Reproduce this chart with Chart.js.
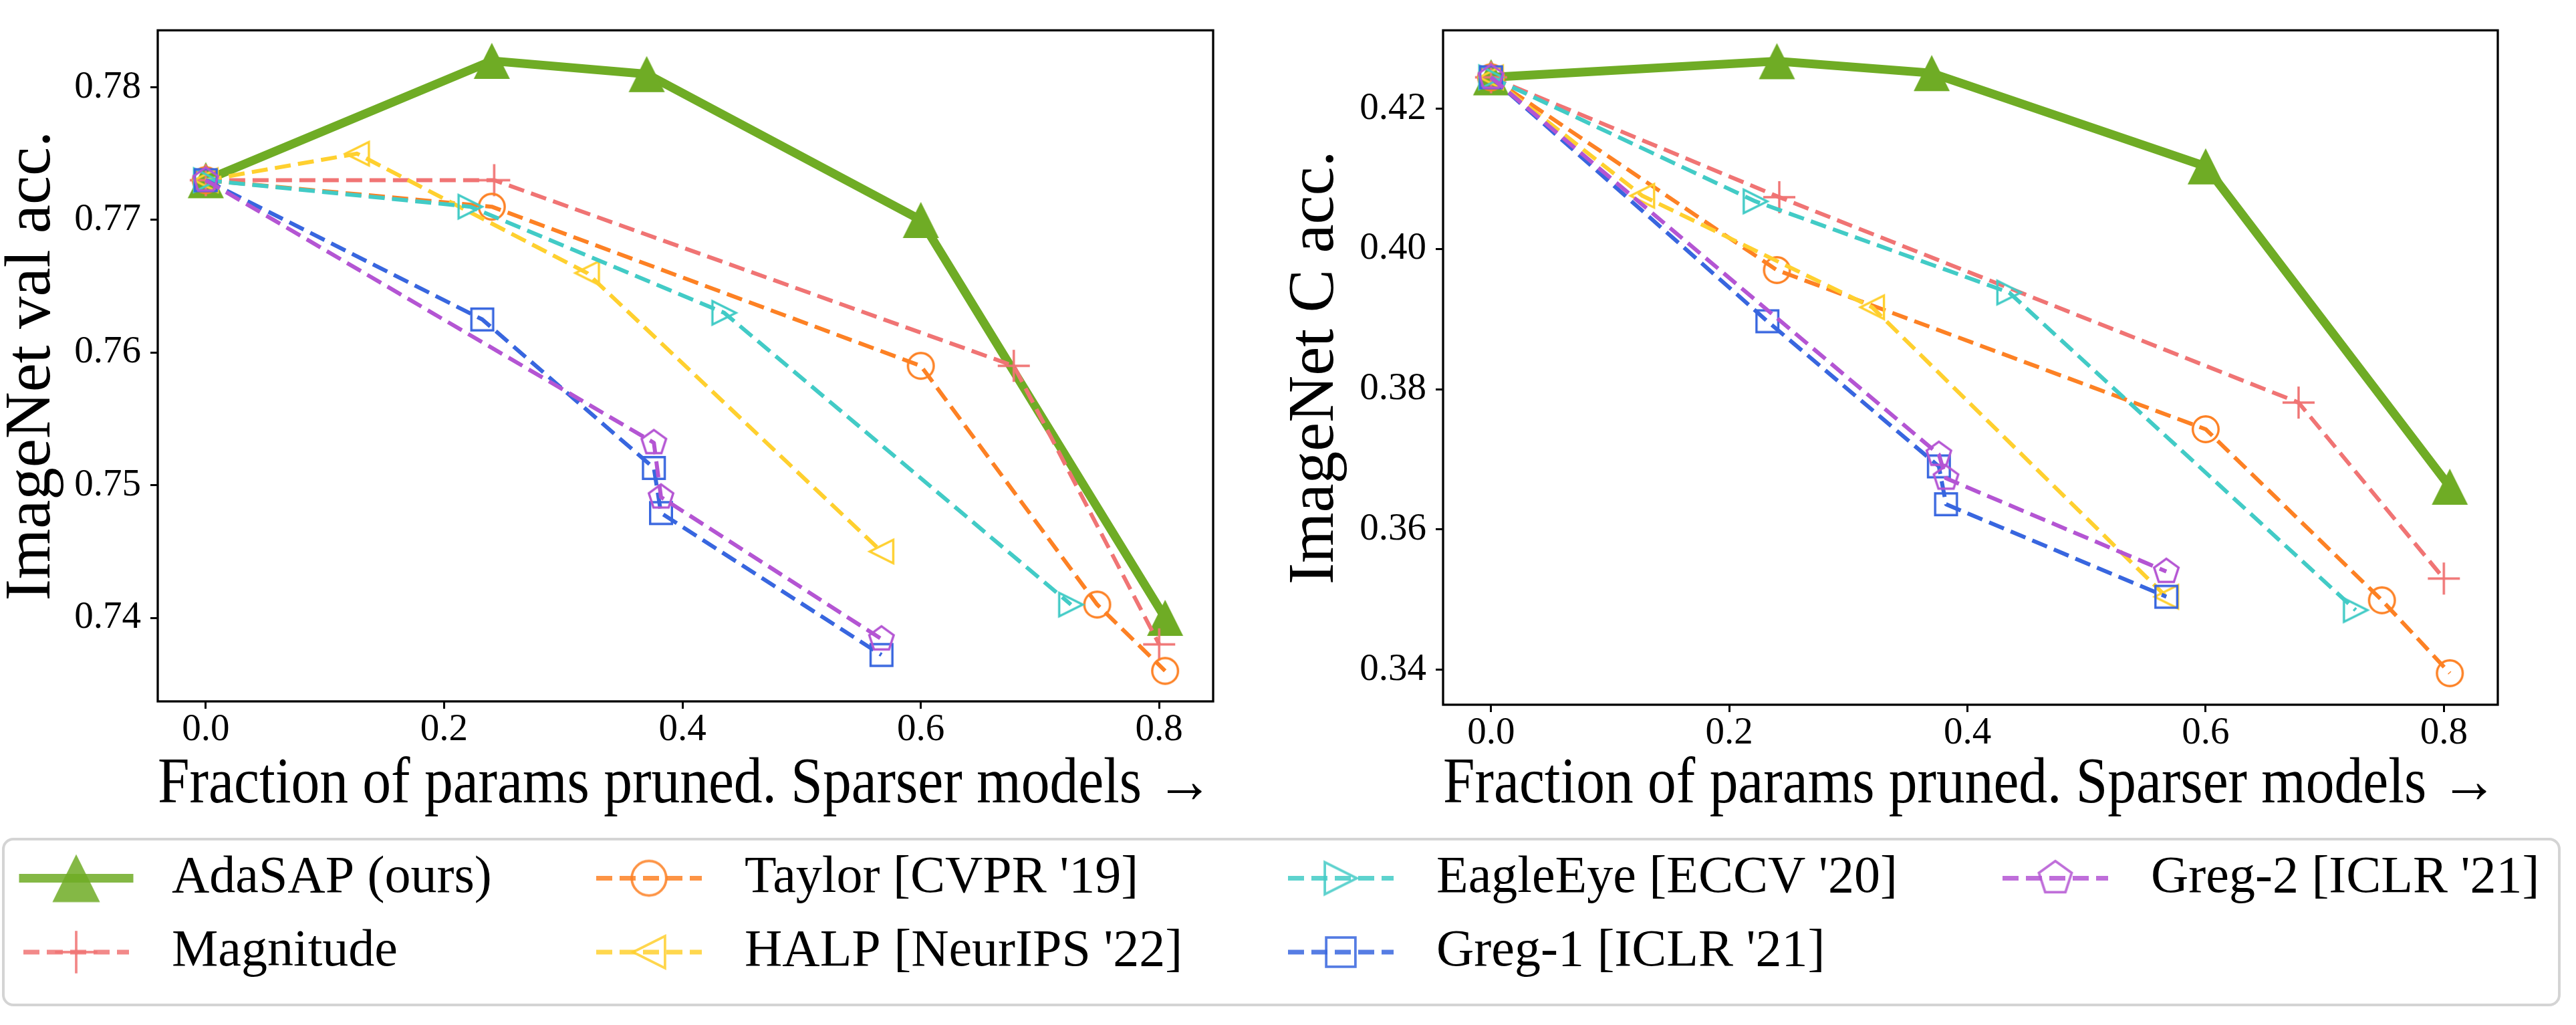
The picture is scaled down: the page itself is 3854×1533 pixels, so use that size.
<!DOCTYPE html>
<html>
<head>
<meta charset="utf-8">
<title>Pruning accuracy vs sparsity</title>
<script src="https://cdn.jsdelivr.net/npm/chart.js@4.4.1/dist/chart.umd.min.js"></script>
<style>
  html, body { margin: 0; padding: 0; background: #fff; }
  #wrap { position: relative; width: 3854px; height: 1533px; }
  #wrap canvas { position: absolute; left: 0; top: 0; }
</style>
</head>
<body>
<div id="wrap">
  <canvas id="valChart" width="3854" height="1533"></canvas>
  <canvas id="cChart" width="3854" height="1533"></canvas>
</div>
<script>
const methods = ['AdaSAP (ours)', 'Magnitude', "Taylor [CVPR '19]", "HALP [NeurIPS '22]", "EagleEye [ECCV '20]", "Greg-1 [ICLR '21]", "Greg-2 [ICLR '21]"];

// fraction of params pruned (same in both panels)
const adasapX = [0, 0.24, 0.37, 0.60, 0.805];
const magnitudeX = [0, 0.242, 0.678, 0.80];
const taylorX = [0, 0.24, 0.60, 0.748, 0.805];
const halpX = [0, 0.127, 0.32, 0.567];
const eagleX = [0, 0.222, 0.435, 0.726];
const greg1X = [0, 0.232, 0.376, 0.382, 0.567];
const greg2X = [0, 0.376, 0.382, 0.567];

// ImageNet val acc.
const adasapVal = [0.773, 0.782, 0.781, 0.770, 0.740];
const magnitudeVal = [0.773, 0.773, 0.759, 0.738];
const taylorVal = [0.773, 0.771, 0.759, 0.741, 0.736];
const halpVal = [0.773, 0.775, 0.766, 0.745];
const eagleVal = [0.773, 0.771, 0.763, 0.741];
const greg1Val = [0.773, 0.7625, 0.7513, 0.7479, 0.7372];
const greg2Val = [0.773, 0.7532, 0.7491, 0.7384];

// ImageNet C acc.
const adasapC = [0.4245, 0.4268, 0.4251, 0.4118, 0.3661];
const magnitudeC = [0.4245, 0.4074, 0.3781, 0.353];
const taylorC = [0.4245, 0.397, 0.3743, 0.3499, 0.3395];
const halpC = [0.4245, 0.4076, 0.3917, 0.3504];
const eagleC = [0.4245, 0.4068, 0.3938, 0.3485];
const greg1C = [0.4245, 0.3897, 0.369, 0.3636, 0.3504];
const greg2C = [0.4245, 0.3707, 0.3673, 0.354];

const xTicks = [0, 0.2, 0.4, 0.6, 0.8];
const valTicks = [0.74, 0.75, 0.76, 0.77, 0.78];
const cTicks = [0.34, 0.36, 0.38, 0.40, 0.42];

const xs = [adasapX, magnitudeX, taylorX, halpX, eagleX, greg1X, greg2X];
const valSeries = [adasapVal, magnitudeVal, taylorVal, halpVal, eagleVal, greg1Val, greg2Val];
const cSeries = [adasapC, magnitudeC, taylorC, halpC, eagleC, greg1C, greg2C];

const colors = ['#6fac25', '#f07474', '#fd8124', '#ffd02f', '#42cbc6', '#3866df', '#b455d3'];
const markerKinds = ['triUp', 'plus', 'circle', 'triLeft', 'triRight', 'square', 'pentagon'];
const markerSizes = [54, 48, 42, 42, 42, 36, 40];
const SERIF = "'Liberation Serif', 'Times New Roman', serif";

function makeMarker(kind, size, color, lw) {
  const pad = Math.ceil(lw * 2) + 2;
  const dim = Math.ceil(size) + pad * 2;
  const c = document.createElement('canvas');
  c.width = dim;
  c.height = dim;
  const g = c.getContext('2d');
  g.translate(dim / 2, dim / 2);
  g.strokeStyle = color;
  g.fillStyle = color;
  g.lineWidth = lw;
  g.lineJoin = 'miter';
  const h = size / 2;
  g.beginPath();
  if (kind === 'triUp') {
    g.moveTo(0, -h); g.lineTo(-h, h); g.lineTo(h, h); g.closePath(); g.fill();
    return c;
  }
  if (kind === 'plus') {
    g.moveTo(-h, 0); g.lineTo(h, 0); g.moveTo(0, -h); g.lineTo(0, h); g.stroke();
    return c;
  }
  const r = h - lw / 2;
  const t = h - lw;
  if (kind === 'circle') g.arc(0, 0, r, 0, Math.PI * 2);
  else if (kind === 'square') g.rect(-r, -r, 2 * r, 2 * r);
  else if (kind === 'triRight') { g.moveTo(t, 0); g.lineTo(-t, -t); g.lineTo(-t, t); g.closePath(); }
  else if (kind === 'triLeft') { g.moveTo(-t, 0); g.lineTo(t, -t); g.lineTo(t, t); g.closePath(); }
  else if (kind === 'pentagon') {
    const R = (size - lw) / 1.902;
    for (let k = 0; k < 5; k++) {
      const a = (-90 + 72 * k) * Math.PI / 180;
      g.lineTo(R * Math.cos(a), R * Math.sin(a));
    }
    g.closePath();
  }
  g.stroke();
  return c;
}

const plotMarkers = markerKinds.map((k, i) => makeMarker(k, markerSizes[i], colors[i], 3.4));
const legendMarkers = markerKinds.map((k, i) => makeMarker(k, markerSizes[i] * 1.32, colors[i], 3.8));

function buildDatasets(series) {
  return methods.map((name, i) => ({
    label: name,
    data: xs[i].map((x, j) => ({ x, y: series[i][j] })),
    showLine: true,
    borderColor: colors[i],
    backgroundColor: colors[i],
    borderWidth: i === 0 ? 13 : 6,
    borderDash: i === 0 ? [] : [24, 11],
    borderCapStyle: i === 0 ? 'square' : 'butt',
    borderJoinStyle: 'round',
    pointStyle: plotMarkers[i],
    pointRadius: 20,
    tension: 0,
    order: methods.length - 1 - i
  }));
}

const framePlugin = {
  id: 'frame',
  afterDraw(chart) {
    const { ctx, chartArea: a } = chart;
    ctx.save();
    ctx.strokeStyle = '#000';
    ctx.lineWidth = 3.3;
    ctx.strokeRect(a.left, a.top, a.right - a.left, a.bottom - a.top);
    ctx.restore();
  }
};

// shared legend under both panels, drawn on the first canvas
const legendCols = [35, 892, 1927, 2996];
const legendRows = [1313.5, 1424];
const legendPlugin = {
  id: 'bottomLegend',
  afterDraw(chart) {
    const ctx = chart.ctx;
    ctx.save();
    ctx.beginPath();
    ctx.roundRect(5, 1255, 3824, 248, 15);
    ctx.fillStyle = '#fff';
    ctx.fill();
    ctx.lineWidth = 4;
    ctx.strokeStyle = '#d4d4d4';
    ctx.stroke();
    chart.data.datasets.forEach((ds, i) => {
      const hx = legendCols[Math.floor(i / 2)];
      const cy = legendRows[i % 2];
      ctx.save();
      ctx.globalAlpha = 0.85;
      ctx.beginPath();
      ctx.strokeStyle = ds.borderColor;
      ctx.lineWidth = i === 0 ? 13 : 7;
      ctx.lineCap = ds.borderCapStyle;
      ctx.setLineDash(ds.borderDash);
      ctx.moveTo(hx, cy);
      ctx.lineTo(hx + 158, cy);
      ctx.stroke();
      const m = legendMarkers[i];
      ctx.drawImage(m, hx + 79 - m.width / 2, cy - m.height / 2);
      ctx.restore();
      ctx.fillStyle = '#000';
      ctx.font = `78px ${SERIF}`;
      ctx.textBaseline = 'middle';
      ctx.fillText(ds.label, hx + 222, cy);
    });
    ctx.restore();
  }
};

function makeChart(id, series, cfg) {
  const tickFont = { family: SERIF, size: 57, lineHeight: 1.1 };
  const titleFont = { family: SERIF, size: 97, lineHeight: 1 };
  return new Chart(document.getElementById(id), {
    type: 'scatter',
    data: { datasets: buildDatasets(series) },
    options: {
      responsive: false,
      animation: false,
      devicePixelRatio: 1,
      events: [],
      layout: { padding: cfg.padding },
      plugins: { legend: { display: false }, tooltip: { enabled: false } },
      scales: {
        x: {
          type: 'linear',
          min: -0.0403,
          max: 0.8453,
          afterBuildTicks: (s) => { s.ticks = xTicks.map((v) => ({ value: v })); },
          afterFit: (s) => { s.height = cfg.xHeight; },
          ticks: { callback: (v) => v.toFixed(1), font: tickFont, color: '#000', padding: 1, maxRotation: 0, autoSkip: false },
          grid: { display: true, drawOnChartArea: false, drawTicks: true, tickLength: 11, tickWidth: 3, tickColor: '#000' },
          border: { display: false },
          title: { display: true, text: 'Fraction of params pruned. Sparser models \u2192', font: titleFont, color: '#000', padding: { top: 0, bottom: 27 } }
        },
        y: {
          type: 'linear',
          min: cfg.yMin,
          max: cfg.yMax,
          afterBuildTicks: (s) => { s.ticks = cfg.yTicks.map((v) => ({ value: v })); },
          afterFit: (s) => { s.width = cfg.yWidth; },
          ticks: { callback: (v) => v.toFixed(2), font: tickFont, color: '#000', padding: 14, autoSkip: false },
          grid: { display: true, drawOnChartArea: false, drawTicks: true, tickLength: 11, tickWidth: 3, tickColor: '#000' },
          border: { display: false },
          title: { display: true, text: cfg.yTitle, font: titleFont, color: '#000', padding: { top: 0, bottom: 0 } }
        }
      }
    },
    plugins: cfg.legend ? [framePlugin, legendPlugin] : [framePlugin]
  });
}

function init() {
  makeChart('valChart', valSeries, {
    padding: { left: 0, top: 19, right: 2039, bottom: 283 },
    xHeight: 201,
    yWidth: 236,
    yMin: 0.7337,
    yMax: 0.7843,
    yTicks: valTicks,
    yTitle: 'ImageNet val acc.',
    legend: true
  });
  makeChart('cChart', cSeries, {
    padding: { left: 1920, top: 26, right: 117, bottom: 283 },
    xHeight: 196,
    yWidth: 239,
    yMin: 0.3350,
    yMax: 0.4312,
    yTicks: cTicks,
    yTitle: 'ImageNet C acc.',
    legend: false
  });
}

document.addEventListener('DOMContentLoaded', init);
</script>
</body>
</html>
